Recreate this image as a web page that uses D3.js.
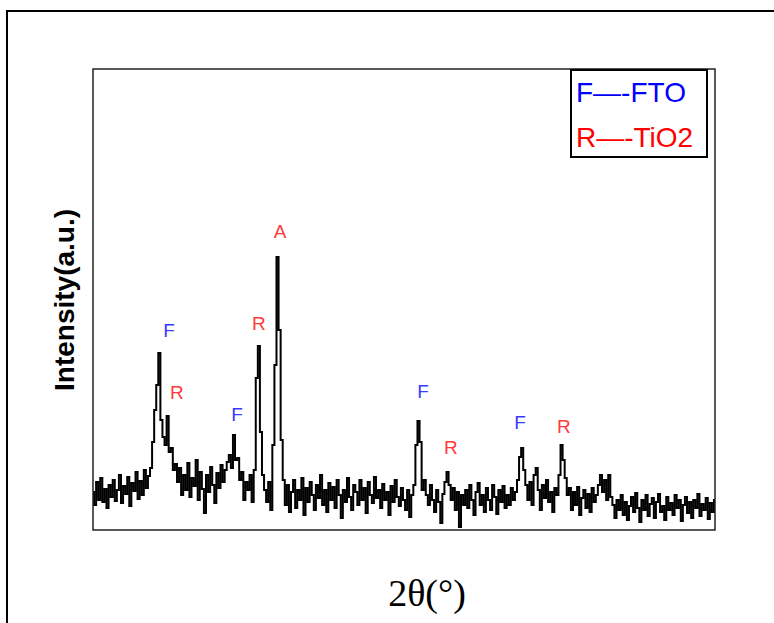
<!DOCTYPE html>
<html>
<head>
<meta charset="utf-8">
<script src="https://cdn.jsdelivr.net/npm/d3@7"></script>
<style>
  body { margin: 0; background: #fff; }
  svg { display: block; }
</style>
</head>
<body>
<svg id="chart" width="774" height="623"></svg>
<script>
// scan: 2θ from 20° in 0.2° steps
const scanStart = 20;
const scanStep = 0.2;

// intensity (a.u.)
const intensity = [
  38, 25, 48, 30, 52, 28, 41, 22, 45, 33,
  50, 29, 40, 55, 27, 44, 36, 53, 24, 47,
  39, 58, 31, 49, 35, 60, 42, 54, 62, 88,
  120, 145, 177, 110, 93, 85, 114, 78, 82, 60,
  66, 48, 62, 35, 55, 40, 67, 33, 52, 44,
  70, 30, 58, 41, 17, 55, 38, 63, 45, 27,
  57, 42, 65, 48, 60, 68, 75, 62, 95, 70,
  72, 50, 58, 30, 48, 40, 55, 28, 60, 152,
  184, 98, 55, 40, 28, 48, 20, 85, 165, 273,
  200, 90, 50, 25, 45, 18, 38, 50, 22, 40,
  30, 52, 15, 42, 28, 48, 35, 20, 45, 32,
  55, 25, 40, 18, 47, 30, 43, 22, 50, 35,
  12, 40, 28, 52, 33, 20, 45, 38, 25, 50,
  30, 42, 17, 48, 35, 27, 53, 32, 40, 22,
  46, 30, 38, 15, 44, 28, 50, 33, 24, 42,
  30, 20, 40, 13, 35, 45, 85, 109, 88, 40,
  50, 35, 25, 45, 30, 18, 40, 28, 7, 36,
  48, 58, 45, 30, 42, 20, 38, 3, 35, 25,
  40, 22, 45, 30, 15, 38, 47, 25, 35, 18,
  42, 30, 20, 45, 33, 16, 40, 28, 44, 22,
  35, 25, 42, 30, 38, 50, 73, 82, 60, 45,
  30, 48, 25, 55, 62, 40, 20, 45, 32, 50,
  28, 38, 18, 42, 35, 55, 85, 70, 52, 35,
  42, 20, 38, 25, 43, 15, 32, 40, 22, 36,
  18, 42, 28, 35, 45, 55, 38, 50, 30, 55,
  33, 25, 12, 30, 20, 35, 15, 28, 10, 24,
  33, 18, 37, 22, 8, 30, 20, 35, 14, 26,
  32, 12, 28, 36, 18, 24, 10, 33, 20, 27,
  15, 35, 22, 30, 9, 25, 33, 17, 28, 12,
  30, 22, 36, 14, 26, 20, 32, 11, 27, 18,
  30
];

// peak markers: letter, 2θ, label baseline height (a.u.)
const peakLetters = ["F", "R", "F", "R", "A", "F", "R", "F", "R"];
const peakAngles  = [27.33, 28.10, 33.89, 36.01, 38.04, 51.83, 54.53, 61.19, 65.43];
const peakHeights = [193, 131, 109, 200, 292, 132, 76, 101, 97];

const legendItems = ["F\u2014-FTO", "R\u2014-TiO2"];
const letterColor = { F: "#3a3aff", R: "#ff3a3a", A: "#ff3a3a" };
const legendColor = ["#0000ff", "#ff0000"];

const svg = d3.select("#chart");
const margin = { left: 93, top: 69, right: 59, bottom: 93 };
const W = 774, H = 623;

// outer frame (runs past the picture edge)
svg.append("rect")
  .attr("x", 7).attr("y", 11)
  .attr("width", 820).attr("height", 700)
  .attr("fill", "none").attr("stroke", "#000").attr("stroke-width", 2);

const x = d3.scaleLinear().domain([20, 80]).range([margin.left, W - margin.right]);
const y = d3.scaleLinear().domain([0, 461]).range([H - margin.bottom, margin.top]);

const data = intensity.map((v, i) => ({ t: scanStart + i * scanStep, v }));

svg.append("path")
  .datum(data)
  .attr("fill", "none")
  .attr("stroke", "#000")
  .attr("stroke-width", 2)
  .attr("d", d3.line().curve(d3.curveStep).x(d => x(d.t)).y(d => y(d.v)));

// plot box
svg.append("rect")
  .attr("x", margin.left).attr("y", margin.top)
  .attr("width", W - margin.right - margin.left)
  .attr("height", H - margin.bottom - margin.top)
  .attr("fill", "none").attr("stroke", "#222").attr("stroke-width", 1.5);

// peak letters
svg.selectAll(".peak")
  .data(peakLetters)
  .enter()
  .append("text")
  .attr("class", "peak")
  .attr("x", (d, i) => x(peakAngles[i]))
  .attr("y", (d, i) => y(peakHeights[i]))
  .attr("text-anchor", "middle")
  .attr("font-family", "Liberation Sans, Arial, sans-serif")
  .attr("font-size", 19)
  .attr("fill", d => letterColor[d])
  .text(d => d);

// legend
svg.append("rect")
  .attr("x", 571).attr("y", 70)
  .attr("width", 136).attr("height", 87)
  .attr("fill", "#fff").attr("stroke", "#000").attr("stroke-width", 2);

svg.selectAll(".legend")
  .data(legendItems)
  .enter()
  .append("text")
  .attr("class", "legend")
  .attr("x", 576)
  .attr("y", (d, i) => 102 + i * 45)
  .attr("font-family", "Liberation Sans, Arial, sans-serif")
  .attr("font-size", 28)
  .attr("fill", (d, i) => legendColor[i])
  .text(d => d);

// axis titles
svg.append("text")
  .attr("transform", "translate(74,300) rotate(-90)")
  .attr("text-anchor", "middle")
  .attr("font-family", "Liberation Sans, Arial, sans-serif")
  .attr("font-weight", "bold")
  .attr("font-size", 28)
  .text("Intensity(a.u.)");

svg.append("text")
  .attr("x", 427).attr("y", 606)
  .attr("text-anchor", "middle")
  .attr("font-family", "Liberation Serif, Times New Roman, serif")
  .attr("font-size", 38)
  .text("2θ(°)");
</script>
</body>
</html>
